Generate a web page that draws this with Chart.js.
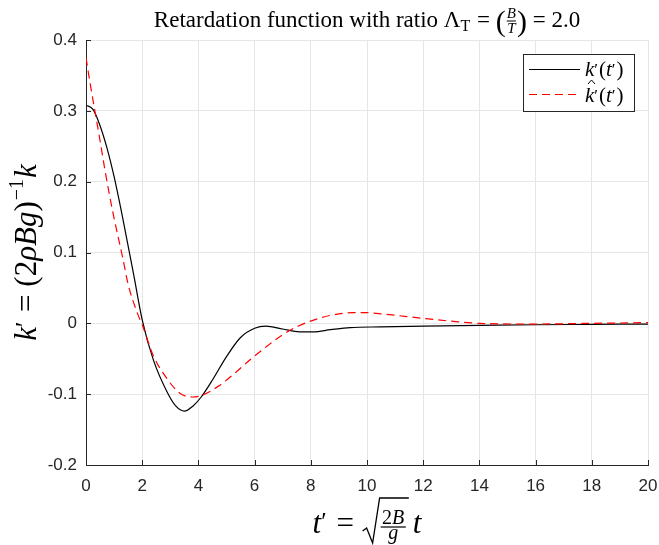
<!DOCTYPE html>
<html><head><meta charset="utf-8">
<script src="https://cdn.jsdelivr.net/npm/chart.js@4/dist/chart.umd.min.js"></script>
<style>html,body{margin:0;padding:0;background:#fff}#wrap{width:659px;height:545px}</style>
</head><body><div id="wrap"><canvas id="c" width="659" height="545"></canvas></div>
<script>
// Retardation function k'(t') and its approximation
const tExact = [0,0.25,0.5,0.75,1.0,1.3,1.7,2.0,2.4,2.9,3.2,3.5,3.8,4.1,4.5,5.0,5.5,6.0,6.4,7.0,7.6,8.1,8.7,9.4,10.5,12,14,16,18,20];
const kExact = [0.308,0.302,0.279,0.247,0.207,0.150,0.068,0.005,-0.052,-0.098,-0.117,-0.124,-0.117,-0.104,-0.080,-0.047,-0.020,-0.007,-0.004,-0.008,-0.012,-0.012,-0.009,-0.006,-0.005,-0.004,-0.003,-0.002,-0.0015,-0.001];
const tApprox = [0,0.15,0.32,0.5,0.68,0.96,1.32,1.5,1.85,2.0,2.4,2.9,3.35,3.8,4.1,4.7,5.25,5.85,6.45,7.0,7.6,8.2,8.8,9.5,10.0,10.6,12,13,14,16,18,20];
const kApprox = [0.375,0.338,0.299,0.258,0.215,0.156,0.090,0.055,0.012,-0.002,-0.046,-0.079,-0.099,-0.104,-0.102,-0.089,-0.072,-0.051,-0.032,-0.016,-0.003,0.006,0.012,0.015,0.015,0.013,0.007,0.003,0.000,-0.001,0.000,0.001];
const xTicks = [0,2,4,6,8,10,12,14,16,18,20];
const yTicks = [-0.2,-0.1,0,0.1,0.2,0.3,0.4];

const SERIF = '"Liberation Serif", "DejaVu Serif", serif';
const SANS = '"Liberation Sans", Arial, sans-serif';
const F = (size, italic) => (italic ? 'italic ' : '') + size + 'px ' + SERIF;
const INK = '#262626';

function zip(xs, ys) { return xs.map((x, i) => ({ x: x, y: ys[i] })); }

// Sequential text runs; returns width. draw=false only measures.
function runs(ctx, items, x, y, draw) {
  let cx = x;
  for (const it of items) {
    if (it.custom) { const w = it.custom(ctx, cx, y, draw); cx += w; continue; }
    ctx.font = it.f;
    if (draw) ctx.fillText(it.t, cx, y + (it.dy || 0));
    cx += ctx.measureText(it.t).width + (it.sp || 0);
  }
  return cx - x;
}
function fraction(num, den, font, axis, gapN, gapD, pad) {
  return function (ctx, x, y, draw) {
    ctx.font = font;
    const wn = ctx.measureText(num).width, wd = ctx.measureText(den).width;
    const w = Math.max(wn, wd) + 2 * pad;
    if (draw) {
      const ya = y - axis;
      ctx.fillText(num, x + (w - wn) / 2, ya - gapN);
      ctx.fillText(den, x + (w - wd) / 2, ya + gapD);
      ctx.fillRect(x + 1, ya - 0.5, w - 2, 1);
    }
    return w;
  };
}

// Square root over the fraction 2B/g
function sqrtFrac(ctx, x, y, draw) {
  const fs = 20;
  ctx.font = F(fs); const w2 = ctx.measureText('2').width;
  ctx.font = F(fs, true); const wB = ctx.measureText('B').width, wg = ctx.measureText('g').width;
  const nw = w2 + wB, fw = Math.max(nw, wg) + 5;
  const left = 18, w = left + fw + 2;
  if (draw) {
    ctx.save();
    ctx.lineWidth = 1.3;
    ctx.lineJoin = 'miter';
    ctx.beginPath();
    ctx.moveTo(x + 1, y - 2);
    ctx.lineTo(x + 5, y - 5);
    ctx.lineTo(x + 11, y + 10);
    ctx.lineTo(x + left, y - 35);
    ctx.lineTo(x + w, y - 35);
    ctx.stroke();
    ctx.restore();
    const fx = x + left, ya = y - 6;
    ctx.font = F(fs); ctx.fillText('2', fx + (fw - nw) / 2, ya - 3);
    ctx.font = F(fs, true); ctx.fillText('B', fx + (fw - nw) / 2 + w2, ya - 3);
    ctx.fillText('g', fx + (fw - wg) / 2, ya + 12);
    ctx.fillRect(fx + 1, ya - 0.6, fw - 2, 1.2);
  }
  return w + 4;
}

const mathText = {
  id: 'mathText',
  afterDraw(chart) {
    const ctx = chart.ctx, a = chart.chartArea;
    const cx = (a.left + a.right) / 2;
    ctx.save();
    ctx.fillStyle = '#000';
    ctx.strokeStyle = '#000';
    ctx.textBaseline = 'alphabetic';

    // Title
    const title = [
      { t: 'Retardation function with ratio \u039B', f: F(23) },
      { t: 'T', f: F(16), dy: 4, sp: 1 },
      { t: ' = ', f: F(23) },
      { t: '(', f: F(30), dy: 4 },
      { custom: fraction('B', 'T', F(15, true), 6, 3, 12, 1) },
      { t: ')', f: F(30), dy: 4 },
      { t: ' = 2.0', f: F(23) }
    ];
    const tw = runs(ctx, title, 0, 0, false);
    runs(ctx, title, cx - tw / 2, 27, true);

    // X axis label
    const xl = [
      { t: 't', f: F(31, true) },
      { t: '\u2032', f: F(25), dy: -3, sp: 2 },
      { t: ' = ', f: F(31) },
      { custom: sqrtFrac },
      { t: 't', f: F(31, true) }
    ];
    const xw = runs(ctx, xl, 0, 0, false);
    runs(ctx, xl, cx - xw / 2, 533, true);

    // Y axis label (rotated)
    const yl = [
      { t: 'k', f: F(31, true) },
      { t: '\u2032', f: F(25), dy: -3, sp: 2 },
      { t: ' = ', f: F(31) },
      { t: '(2', f: F(31) },
      { t: '\u03C1Bg', f: F(31, true) },
      { t: ')', f: F(31), sp: 1 },
      { t: '\u22121', f: F(20), dy: -13, sp: 1 },
      { t: 'k', f: F(31, true) }
    ];
    const yw = runs(ctx, yl, 0, 0, false);
    ctx.save();
    ctx.translate(36, (a.top + a.bottom) / 2);
    ctx.rotate(-Math.PI / 2);
    runs(ctx, yl, -yw / 2, 0, true);
    ctx.restore();

    ctx.restore();
  }
};

// Inward tick marks on the left and bottom axes
const innerTicks = {
  id: 'innerTicks',
  afterDatasetsDraw(chart) {
    const ctx = chart.ctx, a = chart.chartArea;
    const xs = chart.scales.x, ys = chart.scales.y;
    ctx.save();
    ctx.strokeStyle = INK;
    ctx.lineWidth = 1;
    ctx.beginPath();
    for (const v of xTicks) {
      const px = Math.round(xs.getPixelForValue(v)) + 0.5;
      ctx.moveTo(px, a.bottom); ctx.lineTo(px, a.bottom - 5);
    }
    for (const v of yTicks) {
      const py = Math.round(ys.getPixelForValue(v)) + 0.5;
      ctx.moveTo(a.left, py); ctx.lineTo(a.left + 5, py);
    }
    ctx.stroke();
    ctx.restore();
  }
};

// Boxed legend in the upper-right corner
const boxLegend = {
  id: 'boxLegend',
  afterDraw(chart) {
    const ctx = chart.ctx;
    const bx = 523.5, by = 54.5, bw = 111, bh = 57;
    ctx.save();
    ctx.fillStyle = '#fff';
    ctx.fillRect(bx, by, bw, bh);
    ctx.strokeStyle = INK;
    ctx.lineWidth = 1;
    ctx.strokeRect(bx, by, bw, bh);
    const ds = chart.data.datasets;
    const rows = [69.5, 94.5];
    ds.forEach((d, i) => {
      ctx.beginPath();
      ctx.strokeStyle = d.borderColor;
      ctx.lineWidth = d.borderWidth;
      ctx.setLineDash(d.borderDash || []);
      ctx.moveTo(529, rows[i]); ctx.lineTo(580, rows[i]);
      ctx.stroke();
    });
    ctx.setLineDash([]);
    ctx.fillStyle = '#000';
    const lab = [
      { t: 'k', f: F(21, true) },
      { t: '\u2032', f: F(17), dy: -1, sp: 1 },
      { t: '(', f: F(21) },
      { t: 't', f: F(21, true) },
      { t: '\u2032', f: F(17), dy: -1, sp: 1 },
      { t: ')', f: F(21) }
    ];
    runs(ctx, lab, 585, 76, true);
    runs(ctx, lab, 585, 102, true);
    // hat over the second k
    ctx.strokeStyle = '#000';
    ctx.lineWidth = 1;
    ctx.beginPath();
    ctx.moveTo(588, 84); ctx.lineTo(591.5, 80); ctx.lineTo(595, 84);
    ctx.stroke();
    ctx.restore();
  }
};

new Chart(document.getElementById('c'), {
  type: 'line',
  data: {
    datasets: [
      { label: "k'(t')", data: zip(tExact, kExact), borderColor: '#000000', borderWidth: 1.2,
        pointRadius: 0, cubicInterpolationMode: 'monotone', fill: false, order: 1 },
      { label: "k^'(t')", data: zip(tApprox, kApprox), borderColor: '#ff0000', borderWidth: 1.2,
        borderDash: [8, 5], pointRadius: 0, cubicInterpolationMode: 'monotone', fill: false, order: 0 }
    ]
  },
  options: {
    responsive: false,
    animation: false,
    devicePixelRatio: 1,
    layout: { padding: { top: 40, right: 11, left: 0, bottom: 0 } },
    plugins: { legend: { display: false }, title: { display: false }, tooltip: { enabled: false } },
    scales: {
      x: {
        type: 'linear', min: 0, max: 20,
        afterFit(s) { s.height = 80; s.paddingLeft = 0; s.paddingRight = 0; },
        afterBuildTicks(s) { s.ticks = xTicks.map(v => ({ value: v })); },
        ticks: { color: INK, font: { family: SANS, size: 17 }, padding: 11, maxRotation: 0,
          callback: v => String(v) },
        grid: { color: '#e6e6e6', lineWidth: 1, drawTicks: false },
        border: { color: INK, width: 1 }
      },
      y: {
        type: 'linear', min: -0.2, max: 0.4,
        afterFit(s) { s.width = 86; s.paddingTop = 0; s.paddingBottom = 0; },
        afterBuildTicks(s) { s.ticks = yTicks.map(v => ({ value: v })); },
        ticks: { color: INK, font: { family: SANS, size: 17 }, padding: 9,
          callback: v => (Math.abs(v) < 1e-9 ? '0' : v.toFixed(1)) },
        grid: { color: '#e6e6e6', lineWidth: 1, drawTicks: false },
        border: { color: INK, width: 1 }
      }
    }
  },
  plugins: [innerTicks, boxLegend, mathText]
});
</script>
</body></html>
